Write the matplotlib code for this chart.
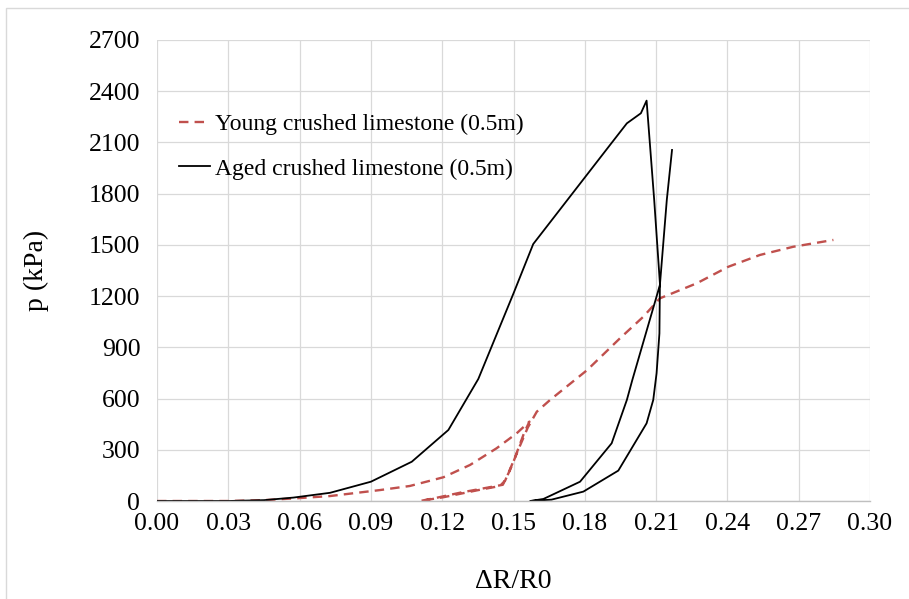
import numpy as np
import matplotlib
matplotlib.use("Agg")
import matplotlib.pyplot as plt
from matplotlib.patches import Rectangle

plt.rcParams['font.family'] = ['Liberation Serif', 'DejaVu Serif']

# young crushed limestone: loading, unloading, reloading
young_x = [0, 0.03, 0.045, 0.0588, 0.0728, 0.0938, 0.1064, 0.1205, 0.1317, 0.1429, 0.1513, 0.1567,
           0.1545, 0.1505, 0.1465, 0.1443, 0.1345, 0.1205, 0.1107,
           0.118, 0.128, 0.1455, 0.1485, 0.152, 0.156, 0.1598, 0.1654, 0.181, 0.1948, 0.2046,
           0.2116, 0.2271, 0.2404, 0.2537, 0.2677, 0.2846]
young_p = [0, 0, 5, 16, 29, 64, 88, 139, 211, 309, 396, 465,
           400, 250, 120, 88, 62, 22, 0,
           20, 50, 95, 180, 300, 430, 523, 592, 767, 953, 1079,
           1187, 1275, 1372, 1441, 1489, 1529]

# aged crushed limestone
aged_x = [0, 0.03, 0.045, 0.0574, 0.0728, 0.09, 0.1072, 0.1226, 0.1352, 0.15, 0.1583,
          0.1906, 0.1977, 0.2036, 0.206,
          0.2092, 0.2116, 0.2114, 0.2102, 0.2088, 0.206, 0.1941, 0.1794, 0.166, 0.157,
          0.1626, 0.178, 0.1913, 0.1977, 0.2, 0.2116, 0.2145, 0.2167]
aged_p = [0, 0, 5, 20, 48, 113, 230, 416, 715, 1216, 1505,
          2085, 2212, 2271, 2345,
          1763, 1275, 982, 748, 592, 455, 178, 55, 8, 0,
          12, 113, 338, 592, 709, 1265, 1763, 2056]

x_ticks = np.arange(0, 0.301, 0.03)
y_ticks = np.arange(0, 2701, 300)

fig = plt.figure(figsize=(9.09, 5.99), dpi=100)
ax = fig.add_axes([157/909, 1 - 501/599, (870 - 157)/909, (501 - 40)/599])

ax.plot(young_x, young_p, color='#c0504d', lw=1.7, dashes=(4, 2.6),
        label='Young crushed limestone (0.5m)')
ax.plot(aged_x, aged_p, color='black', lw=1.3, label='Aged crushed limestone (0.5m)')

ax.set_xlim(0, 0.30)
ax.set_ylim(0, 2700)
ax.set_xticks(x_ticks)
ax.set_yticks(y_ticks)
ax.set_xticklabels([f'{v:.2f}' for v in x_ticks])
ax.set_yticklabels([f'{v:.0f}' for v in y_ticks])
ax.tick_params(length=0, labelsize=18.5, colors='black')
ax.tick_params(axis='x', pad=9)
ax.tick_params(axis='y', pad=12)
ax.grid(True, color='#d9d9d9', lw=0.9)
ax.set_axisbelow(True)
for s in ['top', 'right', 'left']:
    ax.spines[s].set_visible(False)
ax.spines['bottom'].set_color('#bfbfbf')
ax.spines['bottom'].set_linewidth(1.0)

ax.set_xlabel('ΔR/R0', fontsize=20, labelpad=24)
ax.set_ylabel('p (kPa)', fontsize=20, labelpad=29)

ax.legend(loc='upper left', bbox_to_anchor=(167/909, 1 - 102/599),
          bbox_transform=fig.transFigure, frameon=False, fontsize=17,
          labelspacing=0.97, handlelength=1.3, handletextpad=0.25, borderpad=0)

# outer chart frame
fig.patches.append(Rectangle((6/909, -0.1), 1.2, 1 - 8/599 + 0.1, transform=fig.transFigure,
                             fill=False, edgecolor='#d9d9d9', lw=1.0))

fig.savefig('out.png', dpi=100)
